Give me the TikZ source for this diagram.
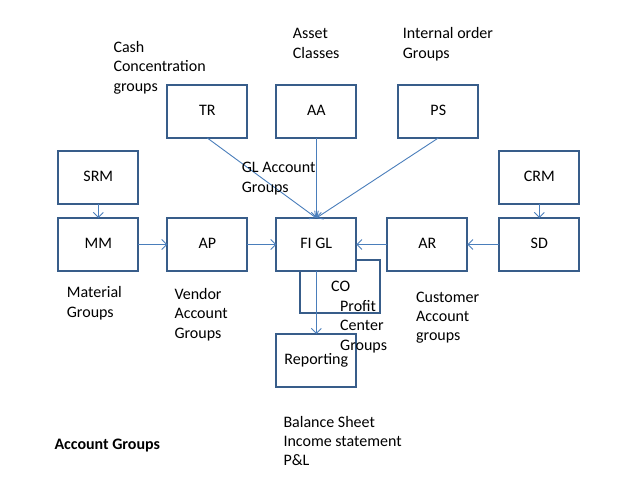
\documentclass[tikz,border=0pt]{standalone}
\usepackage{fontspec}
\setmainfont{Carlito}
\usetikzlibrary{positioning,arrows.meta}
\definecolor{boxline}{RGB}{56,93,138}
\definecolor{arrowline}{RGB}{74,126,187}
\newcommand{\diagfont}{\fontsize{16}{19.2}\selectfont}
\tikzset{
  module/.style={draw=boxline, line width=1.8pt, fill=white, outer sep=0pt,
    minimum width=80pt, minimum height=53pt, inner sep=0pt,
    text height=11pt, text depth=3.5pt},
  flow/.style={draw=arrowline, line width=0.9pt,
    -{Straight Barb[length=5pt,width=10pt]}},
  % multi-line notes sit on the baseline of their last line
  note/.style={anchor=base west, align=left, inner sep=0pt},
}

\begin{document}
\begin{tikzpicture}[x=1pt, y=-1pt, font=\diagfont]
    \useasboundingbox (0,0) rectangle (638,479);
    % CO box first, FI GL covers its corner
    \node[module] (co) at (340,286.5) {};
    % main row
    \node[module] (mm) at (98.3,244.5) {MM};
    \node[module, right=29pt of mm] (ap) {AP};
    \node[module, right=29pt of ap] (figl) {FI GL};
    \node[module, right=31pt of figl] (ar) {AR};
    \node[module, right=32pt of ar] (sd) {SD};
    % feeding modules
    \node[module, above=14pt of mm] (srm) {SRM};
    \node[module, above=14pt of sd] (crm) {CRM};
    \node[module, above=80pt of ap] (tr) {TR};
    \node[module, above=80pt of figl] (aa) {AA};
    \node[module] (ps) at (438.3,111.5) {PS};
    \node[module, below=63pt of figl] (rep) {Reporting};
    % draw connectors
    \draw[flow] (srm) -- (mm);
    \draw[flow] (crm) -- (sd);
    \draw[flow] (mm) -- (ap);
    \draw[flow] (ap) -- (figl);
    \draw[flow] (sd) -- (ar);
    \draw[flow] (ar) -- (figl);
    \draw[flow] (tr.south) -- (figl.north);
    \draw[flow] (aa) -- (figl);
    \draw[flow] (ps.south) -- (figl.north);
    \draw[flow] (figl) -- (rep);
    % add labels
    \node[note] at (113.3,91) {Cash\\Concentration\\groups};
    \node[note] at (292.7,58) {Asset\\Classes};
    \node[note] at (402.7,58) {Internal order\\Groups};
    \node[note] at (241.7,192) {GL Account\\Groups};
    \node[note] at (66.7,317) {Material\\Groups};
    \node[note] at (174.3,338) {Vendor\\Account\\Groups};
    \node[note] at (416,340.5) {Customer\\Account\\groups};
    \node[note] at (331,291.7) {CO};
    \node[note] at (340,350) {Profit\\Center\\Groups};
    \node[note] at (283.3,465.5) {Balance Sheet\\Income statement\\P\&L};
    \node[note, font=\diagfont\bfseries] at (54.3,449) {Account Groups};
\end{tikzpicture}
\end{document}
